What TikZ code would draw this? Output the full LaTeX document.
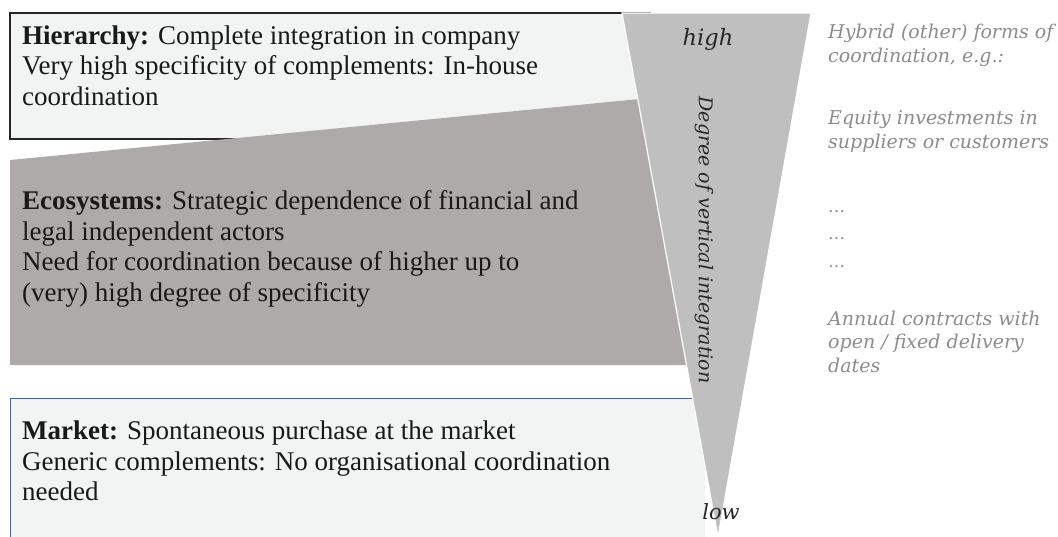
\documentclass[tikz,border=0pt]{standalone}
\usepackage{fontspec}
\setmainfont{Liberation Serif}
\newfontfamily\notefont{DejaVu Serif}
\definecolor{boxfill}{HTML}{F2F3F3}
\definecolor{ecofill}{HTML}{AEAAAA}
\definecolor{wedgefill}{HTML}{BFBFBF}
\definecolor{mktline}{HTML}{4F6296}
\definecolor{notegray}{HTML}{8C8C8C}
\tikzset{
  % multi-line nodes are anchored at the baseline of their last line
  bodytext/.style={inner sep=0pt, anchor=base west, align=left, text=black!90,
    font=\fontsize{27}{30.5}\selectfont},
  wedgelabel/.style={inner sep=0pt, text=black!85,
    font=\notefont\itshape\fontsize{19}{22}\selectfont},
  notetext/.style={inner sep=0pt, anchor=base west, align=left, text=notegray,
    font=\notefont\itshape\fontsize{19}{23.5}\selectfont},
}
\begin{document}
\begin{tikzpicture}[x=1pt,y=-1pt]
\useasboundingbox (0,0) rectangle (1058,536);
\clip (0,0) rectangle (1058,536);
% hierarchy band
\path[draw=black!85, line width=1.1pt, fill=boxfill] (10,13) rectangle (650,139);
% ecosystems band
\fill[ecofill] (10,160) -- (645,98.5) -- (700,365) -- (10,365) -- cycle;
% market band
\fill[boxfill] (10,398) rectangle (705,560);
\draw[mktline, line width=0.9pt] (10,560) -- (10,398) -- (705,398);
% wedge for the degree of vertical integration
\filldraw[fill=wedgefill, draw=white, line width=1.2pt] (622,13) -- (811,13) -- (718,537) -- cycle;

\node[bodytext] (hier) at (22,105) {\textbf{Hierarchy:} Complete integration in company\\
  Very high specificity of complements: In-house\\coordination};
\node[bodytext] (eco) at (22,301) {\textbf{Ecosystems:} Strategic dependence of financial and\\
  legal independent actors\\Need for coordination because of higher up to\\(very) high degree of specificity};
\node[bodytext] (mkt) at (22,500.5) {\textbf{Market:} Spontaneous purchase at the market\\
  Generic complements: No organisational coordination\\needed};

\node[wedgelabel, anchor=base, font=\notefont\itshape\fontsize{22.5}{24}\selectfont] (high) at (708,45) {high};
\node[wedgelabel, anchor=base, font=\notefont\itshape\fontsize{21}{24}\selectfont] (low) at (721,519) {low};
\node[wedgelabel, rotate=-90] (degree) at (704,240) {Degree of vertical integration};

\node[notetext] (hybrid) at (828,62) {Hybrid (other) forms of\\coordination, e.g.:};
\node[notetext] (equity) at (828,148) {Equity investments in\\suppliers or customers};
\node[notetext, font=\notefont\itshape\fontsize{17}{27.5}\selectfont] (dots) at (828,267) {…\\…\\…};
\node[notetext] (annual) at (828,372) {Annual contracts with\\open / fixed delivery\\dates};
\end{tikzpicture}
\end{document}
